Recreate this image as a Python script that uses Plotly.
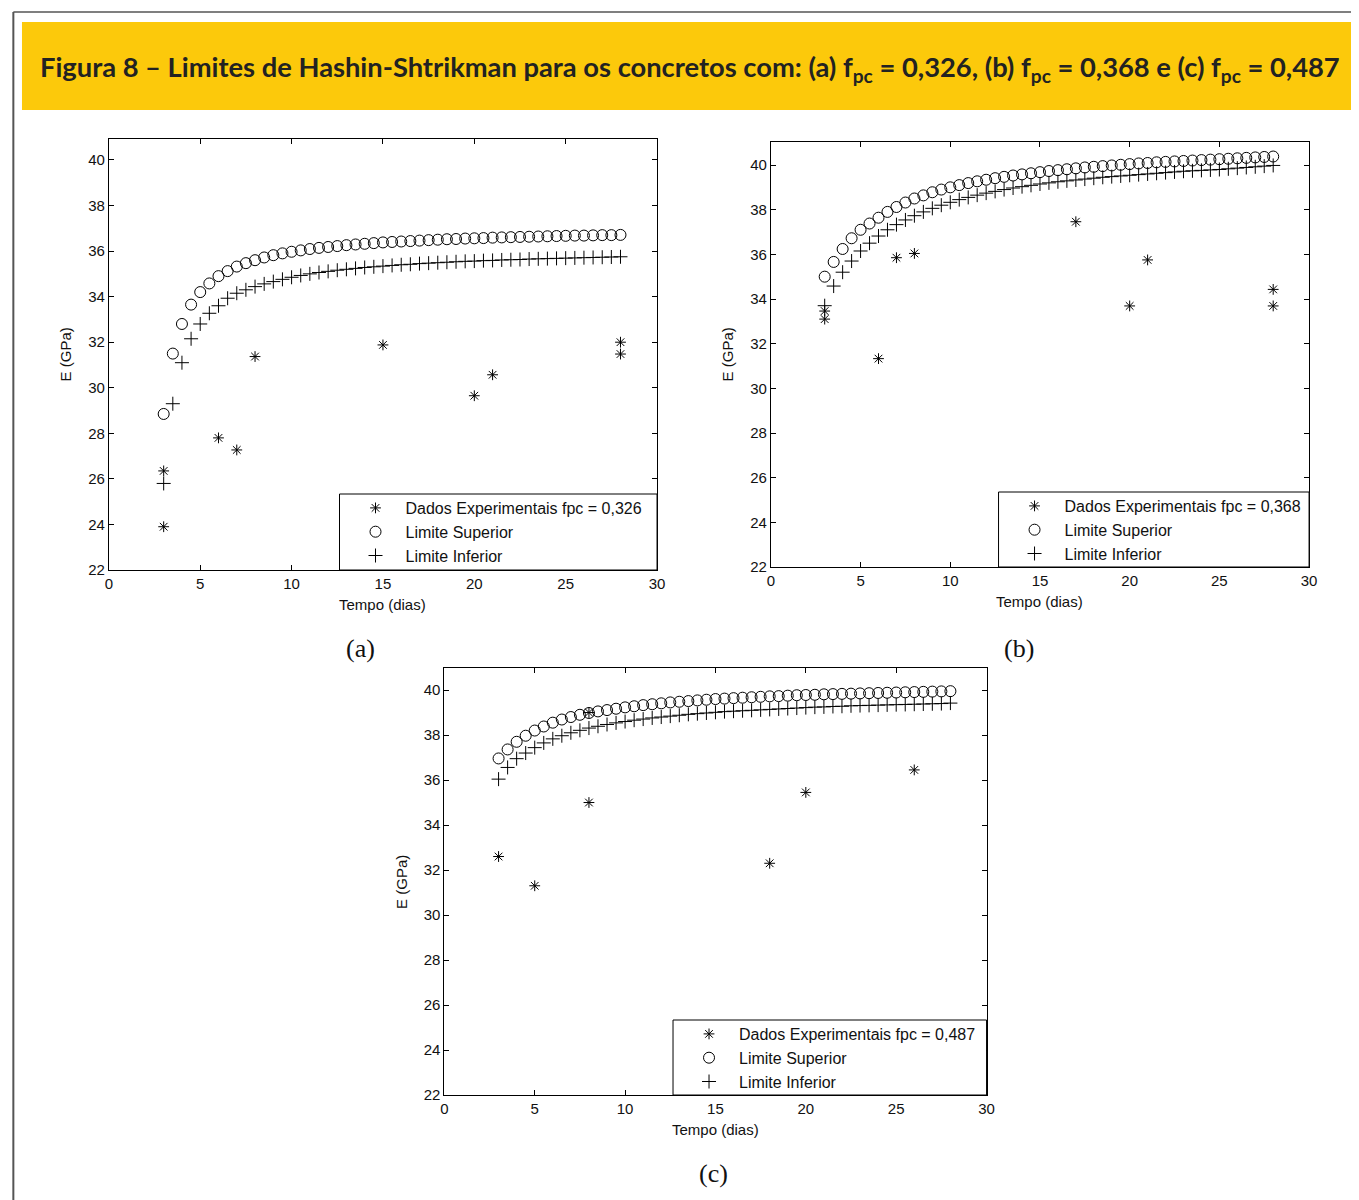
import plotly.graph_objects as go

W, H = 1359, 1200
# the page is shown with a small offset; map reference pixels into paper fractions
MX, MY = 10, 8

dias = [3, 3.5, 4, 4.5, 5, 5.5, 6, 6.5, 7, 7.5, 8, 8.5, 9, 9.5, 10, 10.5, 11, 11.5, 12, 12.5,
        13, 13.5, 14, 14.5, 15, 15.5, 16, 16.5, 17, 17.5, 18, 18.5, 19, 19.5, 20, 20.5, 21, 21.5,
        22, 22.5, 23, 23.5, 24, 24.5, 25, 25.5, 26, 26.5, 27, 27.5, 28]

sup_a = [28.85, 31.5, 32.8, 33.65, 34.2, 34.58, 34.9, 35.12, 35.32, 35.47, 35.6, 35.72, 35.82, 35.9,
         35.97, 36.03, 36.09, 36.14, 36.18, 36.22, 36.26, 36.29, 36.32, 36.35, 36.38, 36.40, 36.42,
         36.44, 36.46, 36.48, 36.50, 36.52, 36.53, 36.55, 36.56, 36.57, 36.59, 36.60, 36.61, 36.62,
         36.63, 36.64, 36.65, 36.66, 36.67, 36.68, 36.68, 36.69, 36.70, 36.70, 36.71]
inf_a = [25.8, 29.3, 31.1, 32.15, 32.8, 33.27, 33.6, 33.93, 34.15, 34.3, 34.44, 34.56, 34.66, 34.76,
         34.85, 34.93, 35.0, 35.06, 35.11, 35.16, 35.2, 35.24, 35.28, 35.31, 35.34, 35.37, 35.40,
         35.42, 35.45, 35.47, 35.49, 35.51, 35.53, 35.55, 35.56, 35.58, 35.59, 35.61, 35.62, 35.63,
         35.65, 35.66, 35.67, 35.68, 35.69, 35.70, 35.71, 35.72, 35.73, 35.74, 35.75]
exp_a_x = [3, 3, 6, 7, 8, 15, 20, 21, 28, 28]
exp_a_y = [26.35, 23.9, 27.8, 27.27, 31.37, 31.88, 29.65, 30.57, 32.0, 31.48]

sup_b = [35.0, 35.66, 36.24, 36.72, 37.1, 37.38, 37.64, 37.9, 38.12, 38.32, 38.5, 38.64, 38.78, 38.9,
         39.0, 39.1, 39.19, 39.27, 39.34, 39.41, 39.47, 39.53, 39.58, 39.63, 39.68, 39.73, 39.77,
         39.81, 39.85, 39.89, 39.92, 39.95, 39.98, 40.01, 40.04, 40.07, 40.09, 40.12, 40.14, 40.16,
         40.18, 40.20, 40.22, 40.24, 40.26, 40.28, 40.30, 40.32, 40.34, 40.36, 40.38]
inf_b = [33.7, 34.58, 35.2, 35.7, 36.15, 36.5, 36.82, 37.1, 37.33, 37.54, 37.73, 37.9, 38.06, 38.2,
         38.33, 38.45, 38.55, 38.65, 38.74, 38.82, 38.9, 38.97, 39.03, 39.09, 39.15, 39.2, 39.25,
         39.29, 39.33, 39.37, 39.41, 39.45, 39.48, 39.51, 39.54, 39.57, 39.60, 39.63, 39.66, 39.69,
         39.72, 39.74, 39.76, 39.78, 39.80, 39.83, 39.86, 39.89, 39.92, 39.95, 39.98]
exp_b_x = [3, 3, 6, 7, 8, 17, 20, 21, 28, 28]
exp_b_y = [33.46, 33.1, 31.33, 35.85, 36.04, 37.46, 33.69, 35.75, 34.43, 33.69]

sup_c = [36.96, 37.36, 37.7, 37.97, 38.2, 38.38, 38.55, 38.69, 38.8, 38.9, 38.98, 39.05, 39.11, 39.17,
         39.23, 39.28, 39.33, 39.37, 39.41, 39.45, 39.48, 39.51, 39.54, 39.57, 39.6, 39.62, 39.64,
         39.66, 39.68, 39.7, 39.72, 39.73, 39.75, 39.77, 39.78, 39.79, 39.81, 39.82, 39.83, 39.84,
         39.85, 39.86, 39.87, 39.88, 39.89, 39.9, 39.91, 39.92, 39.93, 39.94, 39.95]
inf_c = [36.04, 36.56, 36.95, 37.2, 37.44, 37.65, 37.83, 37.97, 38.1, 38.21, 38.31, 38.39, 38.47,
         38.54, 38.6, 38.66, 38.71, 38.76, 38.8, 38.84, 38.88, 38.92, 38.95, 38.98, 39.01, 39.04,
         39.06, 39.08, 39.1, 39.12, 39.14, 39.16, 39.18, 39.2, 39.22, 39.24, 39.25, 39.27, 39.28,
         39.3, 39.31, 39.32, 39.33, 39.34, 39.35, 39.36, 39.37, 39.38, 39.39, 39.4, 39.42]
exp_c_x = [3, 5, 8, 8, 18, 20, 26]
exp_c_y = [32.6, 31.3, 35.0, 39.0, 32.3, 35.45, 36.45]

fpc_labels = ["0,326", "0,368", "0,487"]
x_ticks = [0, 5, 10, 15, 20, 25, 30]
y_ticks = [22, 24, 26, 28, 30, 32, 34, 36, 38, 40]
panel_labels = ["(a)", "(b)", "(c)"]
title_text = ("Figura 8 – Limites de Hashin-Shtrikman para os concretos com: (a) f<sub>pc</sub> = 0,326, "
              "(b) f<sub>pc</sub> = 0,368 e (c) f<sub>pc</sub> = 0,487")


def px_x(p):
    return min(1.0, max(0.0, (p - MX) / (W - MX)))


def px_y(p):
    return min(1.0, max(0.0, 1 - (p - MY) / (H - MY)))


# panel boxes in reference pixels: (left, top, right, bottom), y-range top
panels = [
    dict(box=(107, 139, 656, 570), ytop=40.92, sup=sup_a, inf=inf_a, ex=exp_a_x, ey=exp_a_y),
    dict(box=(770, 142, 1309, 567), ytop=41.03, sup=sup_b, inf=inf_b, ex=exp_b_x, ey=exp_b_y),
    dict(box=(443, 668, 986, 1095), ytop=40.98, sup=sup_c, inf=inf_c, ex=exp_c_x, ey=exp_c_y),
]
legend_boxes = [(338, 494, 656, 570), (998, 492, 1309, 567), (672, 1020, 986, 1095)]
legend_mid = [532, 530, 1058]
label_pos = [(359, 648), (1018, 648), (713, 1173)]

FONT = "Liberation Sans, Arial, sans-serif"
fig = go.Figure()
layout = dict(width=W, height=H, margin=dict(l=0, r=0, t=0, b=0),
              paper_bgcolor="white", plot_bgcolor="white", showlegend=True)
annotations = []
shapes = []

for i, p in enumerate(panels):
    n = "" if i == 0 else str(i + 1)
    xa, ya = "x" + n, "y" + n
    leg = "legend" if i == 0 else "legend" + str(i + 1)
    fig.add_trace(go.Scatter(x=p["ex"], y=p["ey"], mode="markers", xaxis=xa, yaxis=ya,
                             name="Dados Experimentais fpc = " + fpc_labels[i], legend=leg,
                             marker=dict(symbol="asterisk-open", size=9, color="black",
                                         line=dict(width=1, color="black"))))
    fig.add_trace(go.Scatter(x=dias, y=p["sup"], mode="markers", xaxis=xa, yaxis=ya,
                             name="Limite Superior", legend=leg,
                             marker=dict(symbol="circle-open", size=11, color="black",
                                         line=dict(width=1, color="black"))))
    fig.add_trace(go.Scatter(x=dias, y=p["inf"], mode="markers", xaxis=xa, yaxis=ya,
                             name="Limite Inferior", legend=leg,
                             marker=dict(symbol="cross-thin-open", size=10, color="black",
                                         line=dict(width=1, color="black"))))
    l, t, r, b = p["box"]
    axcommon = dict(showline=True, linecolor="black", linewidth=1, mirror="ticks",
                    ticks="inside", ticklen=5, tickcolor="black", showgrid=False,
                    zeroline=False, tickfont=dict(family=FONT, size=15, color="#111"))
    layout["xaxis" + n] = dict(axcommon, domain=[px_x(l), px_x(r)], range=[0, 30],
                               tickvals=x_ticks, anchor=ya)
    layout["yaxis" + n] = dict(axcommon, domain=[px_y(b), px_y(t)], range=[22, p["ytop"]],
                               tickvals=y_ticks, anchor=xa)
    bl, bt, br, bb = legend_boxes[i]
    shapes.append(dict(type="rect", xref="paper", yref="paper", x0=px_x(bl), x1=px_x(br),
                       y0=px_y(bb), y1=px_y(bt), fillcolor="white",
                       line=dict(color="black", width=1), layer="above"))
    layout[leg] = dict(x=px_x(bl), y=px_y(legend_mid[i]), xanchor="left", yanchor="middle",
                       xref="paper", yref="paper",
                       bgcolor="rgba(0,0,0,0)", borderwidth=0,
                       font=dict(family=FONT, size=16, color="#111"),
                       itemwidth=50, indentation=6, tracegroupgap=0)
    # axis titles
    annotations.append(dict(text="Tempo (dias)", x=px_x((l + r) / 2), y=px_y(b + 34),
                            xref="paper", yref="paper", showarrow=False,
                            xanchor="center", yanchor="middle",
                            font=dict(family=FONT, size=15, color="#111")))
    annotations.append(dict(text="E (GPa)", x=px_x(l - 43), y=px_y((t + b) / 2),
                            xref="paper", yref="paper", showarrow=False, textangle=-90,
                            xanchor="center", yanchor="middle",
                            font=dict(family=FONT, size=15, color="#111")))
    px_, py_ = label_pos[i]
    annotations.append(dict(text=panel_labels[i], x=px_x(px_), y=px_y(py_), xref="paper",
                            yref="paper", showarrow=False, xanchor="center", yanchor="middle",
                            font=dict(family="Liberation Serif, DejaVu Serif, serif", size=26,
                                      color="#111")))

# banner and page frame
shapes.append(dict(type="rect", xref="paper", yref="paper", x0=px_x(20), x1=1.0,
                   y0=px_y(110), y1=px_y(22), fillcolor="#FCC90B", line=dict(width=0),
                   layer="below"))
shapes.append(dict(type="line", xref="paper", yref="paper", x0=0.001, x1=1.0,
                   y0=px_y(12), y1=px_y(12), line=dict(color="#555", width=1.5)))
shapes.append(dict(type="line", xref="paper", yref="paper", x0=0.001, x1=0.001,
                   y0=px_y(12), y1=0, line=dict(color="#555", width=2)))
annotations.append(dict(text="<b>" + title_text + "</b>", x=px_x(689), y=px_y(69),
                        xref="paper", yref="paper", showarrow=False,
                        xanchor="center", yanchor="middle",
                        font=dict(family="Lato, Open Sans, sans-serif", size=27.3, color="#222")))

layout["annotations"] = annotations
layout["shapes"] = shapes
fig.update_layout(**layout)
fig.write_html("out.html")
